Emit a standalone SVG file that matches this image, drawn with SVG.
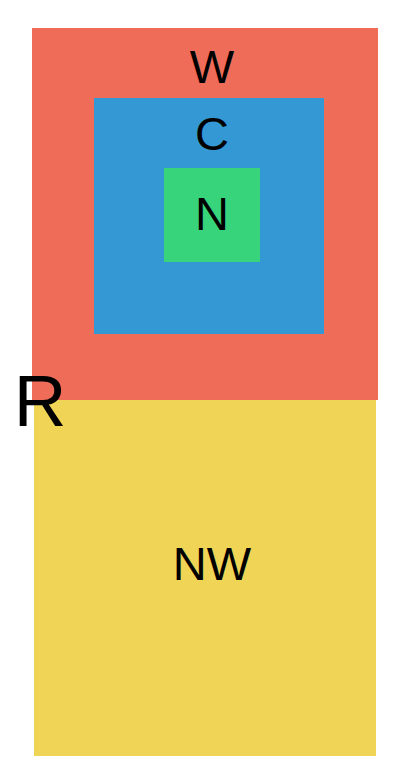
<svg xmlns="http://www.w3.org/2000/svg" width="410" height="784" viewBox="0 0 410 784">
<style>
text{font-family:"Liberation Sans",Arial,sans-serif;fill:#000;text-anchor:middle}
.l{font-size:47px}
</style>
<rect width="410" height="784" fill="#fff"/>
<g id="R">
<rect x="32" y="28" width="346" height="372" fill="#ee6c58"/>
<rect x="34" y="400" width="342" height="356" fill="#efd456"/>
<text x="40" y="426" style="font-size:73px">R</text>
</g>
<g id="W">
<text class="l" x="212" y="83">W</text>
</g>
<g id="C">
<rect x="94" y="98" width="230" height="236" fill="#3498d4"/>
<text class="l" x="212" y="150">C</text>
</g>
<g id="N">
<rect x="164" y="168" width="96" height="94" fill="#37d47c"/>
<text class="l" x="212" y="230">N</text>
</g>
<g id="NW">
<text class="l" x="212" y="580">NW</text>
</g>
<g id="connectors"></g>
</svg>
